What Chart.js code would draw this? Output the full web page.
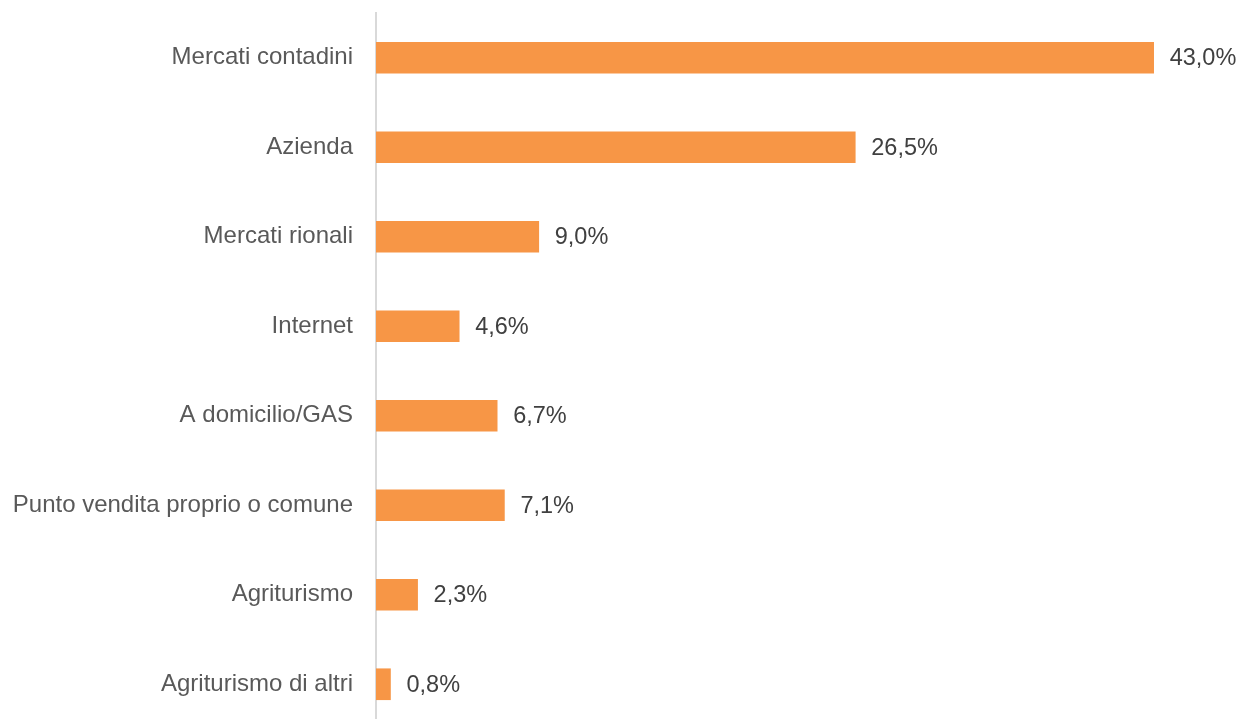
<!DOCTYPE html>
<html>
<head>
<meta charset="utf-8">
<script src="https://cdn.jsdelivr.net/npm/chart.js@4"></script>
<style>
    html, body { margin: 0; padding: 0; background: #fff; overflow: hidden; }
    #wrap { position: relative; width: 1239px; height: 729px; }
</style>
</head>
<body>
<div id="wrap"><canvas id="canaliChart"></canvas></div>
<script>
const categories = [
    'Mercati contadini',
    'Azienda',
    'Mercati rionali',
    'Internet',
    'A domicilio/GAS',
    'Punto vendita proprio o comune',
    'Agriturismo',
    'Agriturismo di altri'
];
const shares = [43.0, 26.5, 9.0, 4.6, 6.7, 7.1, 2.3, 0.8];

function formatPct(v) {
    return v.toFixed(1).replace('.', ',') + '%';
}

// Writes the percentage to the right of each bar
const valueLabels = {
    id: 'valueLabels',
    afterDatasetsDraw(chart) {
        const ctx = chart.ctx;
        const meta = chart.getDatasetMeta(0);
        ctx.save();
        ctx.font = '23.5px "Liberation Sans", Arial, sans-serif';
        ctx.fillStyle = '#404040';
        ctx.textAlign = 'left';
        ctx.textBaseline = 'middle';
        meta.data.forEach((bar, i) => {
            ctx.fillText(formatPct(shares[i]), bar.x + 16, bar.y + 1);
        });
        ctx.restore();
    }
};

const ctx = document.getElementById('canaliChart').getContext('2d');
new Chart(ctx, {
    type: 'bar',
    data: {
        labels: categories,
        datasets: [{
            data: shares,
            backgroundColor: '#F79646',
            barThickness: 31
        }]
    },
    options: {
        indexAxis: 'y',
        responsive: true,
        maintainAspectRatio: false,
        animation: false,
        layout: { padding: { top: 13, right: 13, bottom: 0, left: 0 } },
        plugins: {
            legend: { display: false },
            tooltip: { enabled: false }
        },
        scales: {
            x: {
                display: false,
                min: 0,
                max: 47
            },
            y: {
                grid: { display: false, drawTicks: false },
                border: { display: true, color: '#D9D9D9', width: 2 },
                ticks: {
                    color: '#595959',
                    padding: 23,
                    font: { family: '"Liberation Sans", Arial, sans-serif', size: 24 }
                },
                afterFit(scale) {
                    // fixed gutter for the category names, no extra vertical padding
                    scale.width = 376;
                    scale.paddingTop = 0;
                    scale.paddingBottom = 0;
                }
            }
        }
    },
    plugins: [valueLabels]
});
</script>
</body>
</html>
